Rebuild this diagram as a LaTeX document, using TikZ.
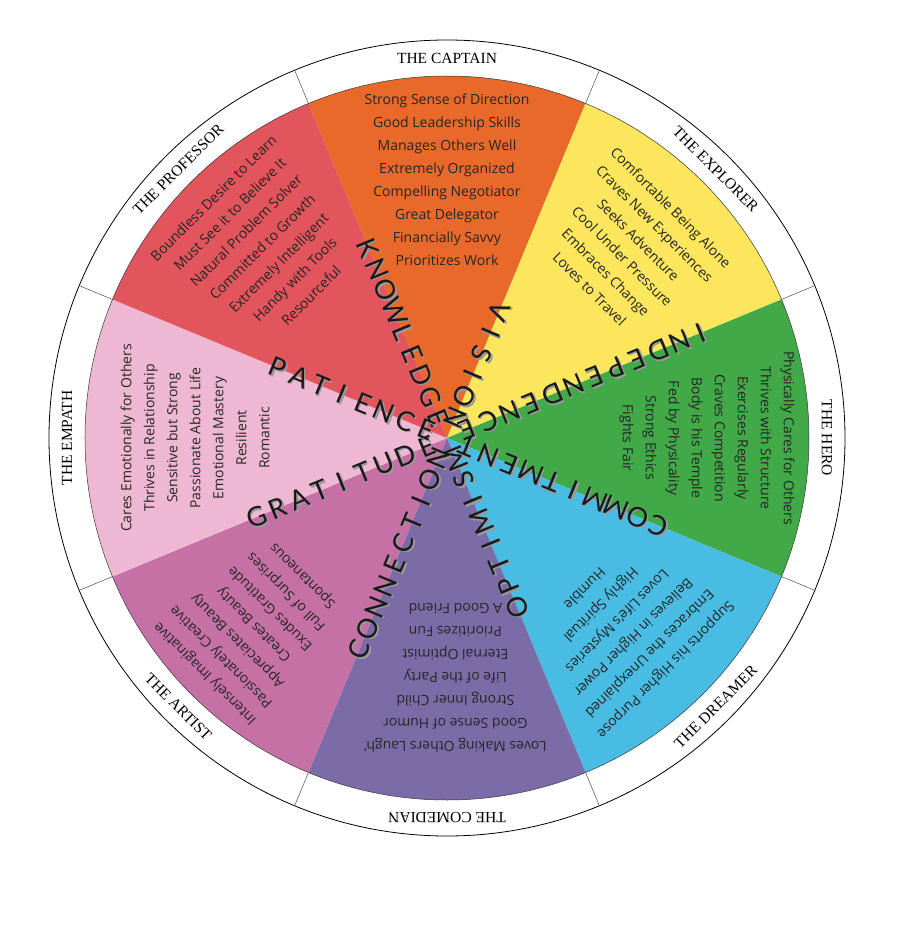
\documentclass[tikz,border=0pt]{standalone}
\usepackage{fontspec}
\setmainfont{Open Sans}
\newfontfamily\ringfont{Liberation Serif}
\newfontfamily\rayfont{Lato}
\definecolor{cCap}{HTML}{E8692A}
\definecolor{cExp}{HTML}{FBE65E}
\definecolor{cHero}{HTML}{41A947}
\definecolor{cDrm}{HTML}{48BCE3}
\definecolor{cCom}{HTML}{7B6CA8}
\definecolor{cArt}{HTML}{C571A6}
\definecolor{cEmp}{HTML}{EEB7D2}
\definecolor{cProf}{HTML}{E2555D}
\newcommand\myray[3]{%
  \foreach \L [count=\k] in {#3}{%
    \pgfmathsetmacro\rr{22+(#2-\k)*23}%
    \node[ray,text=gray!80,xshift=1.6pt,yshift=-1.6pt,rotate=#1+180] at (#1:\rr) {\L};
    \node[ray,rotate=#1+180] (r#1\k) at (#1:\rr) {\L};
  }}
\begin{document}
\begin{tikzpicture}[x=1pt,y=1pt,
  lst/.style={font=\fontsize{14}{23}\selectfont,align=center,text=black!85},
  ring/.style={font=\ringfont\fontsize{15.5}{18}\selectfont},
  ray/.style={font=\rayfont\fontsize{27}{27}\selectfont,inner sep=0pt,text=black!90}]
\useasboundingbox (-447,-502) rectangle (453,438);
\fill[white] (-447,-502) rectangle (453,438);
\foreach \a/\c in {90/cCap,45/cExp,0/cHero,-45/cDrm,-90/cCom,-135/cArt,180/cEmp,135/cProf}{
  \fill[\c] (0,0) -- (\a-22.5:362) arc[start angle=\a-22.5,end angle=\a+22.5,radius=362] -- cycle;
}
\draw[black!80,line width=0.5pt] (0,0) circle (362);
\draw[black,line width=0.8pt] (0,0) circle (398);
\foreach \a in {22.5,67.5,...,337.5}{
  \draw[black!70,line width=0.5pt] (\a:362) -- (\a:398);
}
% ring labels
\node[ring] (lCap) at (90:380) {THE CAPTAIN};
\node[ring,rotate=-45] (lExp) at (45:380) {THE EXPLORER};
\node[ring,rotate=-90] (lHero) at (0:380) {THE HERO};
\node[ring,rotate=45] (lDrm) at (-45:380) {THE DREAMER};
\node[ring,rotate=180] (lCom) at (-90:380) {THE COMEDIAN};
\node[ring,rotate=-45] (lArt) at (-135:380) {THE ARTIST};
\node[ring,rotate=90] (lEmp) at (180:380) {THE EMPATH};
\node[ring,rotate=45] (lProf) at (135:380) {THE PROFESSOR};
% lists
\node[lst] (tCap) at (90:258) {Strong Sense of Direction\\Good Leadership Skills\\Manages Others Well\\Extremely Organized\\Compelling Negotiator\\Great Delegator\\Financially Savvy\\Prioritizes Work};
\node[lst,rotate=-45] (tExp) at (46:264) {Comfortable Being Alone\\Craves New Experiences\\Seeks Adventure\\Cool Under Pressure\\Embraces Change\\Loves to Travel};
\node[lst,rotate=-90] (tHero) at (0:260) {Physically Cares for Others\\Thrives with Structure\\Exercises Regularly\\Craves Competition\\Body is his Temple\\Fed by Physicality\\Strong Ethics\\Fights Fair};
\node[lst,rotate=-135] (tDrm) at (-47:262) {Supports his Higher Purpose\\Embraces the Unexplained\\Believes in Higher Power\\Loves Life's Mysteries\\Highly Spiritual\\Humble};
\node[lst,rotate=180] (tCom) at (-88:240) {Loves Making Others Laugh'\\Good Sense of Humor\\Strong Inner Child\\Life of the Party\\Eternal Optimist\\Prioritizes Fun\\A Good Friend};
\node[lst,rotate=135] (tArt) at (-136:268) {Intensely Imaginative\\Passionately Creative\\Appreciates Beauty\\Creates Beauty\\Exudes Gratitude\\Full of Surprises\\Spontaneous};
\node[lst,rotate=90] (tEmp) at (180:252) {Cares Emotionally for Others\\Thrives in Relationship\\Sensitive but Strong\\Passionate About Life\\Emotional Mastery\\Resilient\\Romantic};
\node[lst,rotate=45] (tProf) at (134:266) {Boundless Desire to Learn\\Must See it to Believe It\\Natural Problem Solver\\Committed to Growth\\Extremely Intelligent\\Handy with Tools\\Resourceful};
% ray words
\myray{112.5}{9}{K,N,O,W,L,E,D,G,E}
\myray{67.5}{6}{V,I,S,I,O,N}
\myray{22.5}{12}{I,N,D,E,P,E,N,D,E,N,C,E}
\myray{-22.5}{10}{C,O,M,M,I,T,M,E,N,T}
\myray{-67.5}{8}{O,P,T,I,M,I,S,M}
\myray{-112.5}{10}{C,O,N,N,E,C,T,I,O,N}
\myray{-157.5}{9}{G,R,A,T,I,T,U,D,E}
\myray{157.5}{8}{P,A,T,I,E,N,C,E}
\end{tikzpicture}
\end{document}
